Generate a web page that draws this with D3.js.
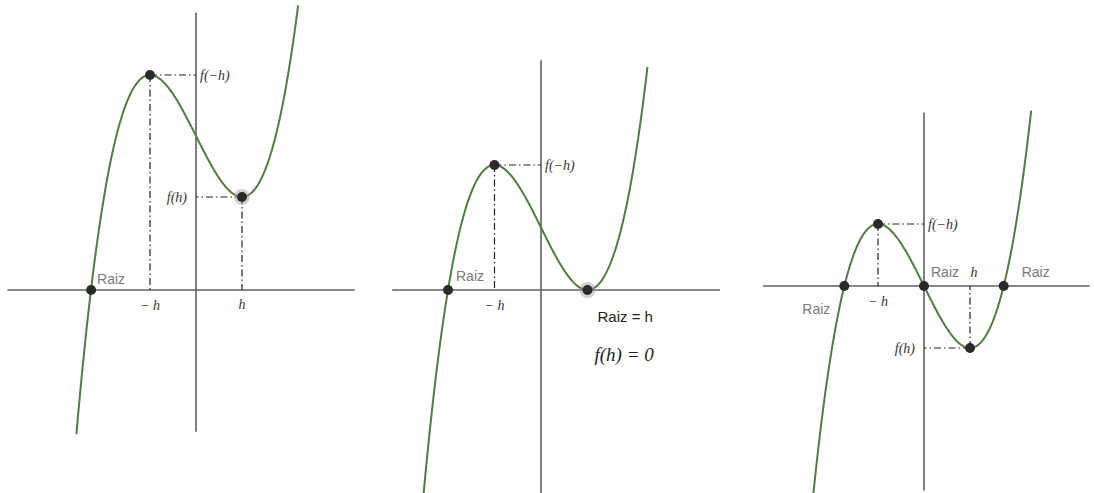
<!DOCTYPE html>
<html>
<head>
<meta charset="utf-8">
<script src="https://cdn.jsdelivr.net/npm/d3@7"></script>
<style>
  body { margin: 0; background: #fff; }
  .raiz { font-family: "Liberation Sans", Arial, sans-serif; font-size: 14px; fill: #7a7a7a; }
  .fx { font-family: "Liberation Serif", "DejaVu Serif", serif; font-style: italic; font-size: 14px; fill: #333; }
</style>
</head>
<body>
<svg id="chart" width="1094" height="493"></svg>
<script>
// f(x) = x^3 - 3x + c  (x measured in units of h)
const offsets = [5.05, 2, 0];
// visible x range of each curve, in units of h
const curveFrom = [-2.6, -2.55, -2.43];
const curveTo = [2.22, 2.3, 2.33];
// axis extents in data units [xmin, xmax, ymin, ymax]
const axisX = [[-4.1, 3.45], [-3.2, 3.85], [-3.5, 3.6]];
const axisY = [[-4.65, 9.1], [-6.5, 7.35], [-6.6, 5.6]];
// roots and their labels
const rootLabels = [
  [{ x: -2.28, text: "Raiz", dx: 6, dy: -6, anchor: "start" }],
  [{ x: -2, text: "Raiz", dx: 8, dy: -9, anchor: "start" }],
  [
    { x: -1.732, text: "Raiz", dx: -14, dy: 28, anchor: "end" },
    { x: 0, text: "Raiz", dx: 7, dy: -9, anchor: "start" },
    { x: 1.732, text: "Raiz", dx: 18, dy: -9, anchor: "start" }
  ]
];

const svg = d3.select("#chart");

// pixel layout of each panel: origin and units
const layout = [
  { ox: 196, oy: 290, kx: 46, ky: 30.5 },
  { ox: 541, oy: 290, kx: 46.5, ky: 31.25 },
  { ox: 924, oy: 286, kx: 46, ky: 31 }
];

const green = "#4f7d42";
const axisColor = "#5f5f5f";

offsets.forEach(function (c, i) {
  const L = layout[i];
  const x = d3.scaleLinear().domain([0, 1]).range([L.ox, L.ox + L.kx]);
  const y = d3.scaleLinear().domain([0, 1]).range([L.oy, L.oy - L.ky]);
  const f = (t) => t * t * t - 3 * t + c;

  const g = svg.append("g");

  // axes
  g.append("line")
    .attr("x1", x(axisX[i][0])).attr("x2", x(axisX[i][1]))
    .attr("y1", y(0)).attr("y2", y(0))
    .attr("stroke", axisColor).attr("stroke-width", 1.6);
  g.append("line")
    .attr("x1", x(0)).attr("x2", x(0))
    .attr("y1", y(axisY[i][0])).attr("y2", y(axisY[i][1]))
    .attr("stroke", axisColor).attr("stroke-width", 1.6);

  // dash-dot guides
  const guide = (x1, y1, x2, y2) => g.append("line")
    .attr("x1", x1).attr("y1", y1).attr("x2", x2).attr("y2", y2)
    .attr("stroke", "#222").attr("stroke-width", 1.2)
    .attr("stroke-dasharray", "7,3,1.5,3");

  const pMax = { x: -1, y: f(-1) };
  const pMin = { x: 1, y: f(1) };
  guide(x(pMax.x), y(pMax.y), x(0), y(pMax.y));
  guide(x(pMax.x), y(pMax.y), x(pMax.x), y(0));
  if (Math.abs(pMin.y) > 0.01) {
    guide(x(pMin.x), y(pMin.y), x(0), y(pMin.y));
    guide(x(pMin.x), y(pMin.y), x(pMin.x), y(0));
  }

  // curve
  const pts = d3.range(curveFrom[i], curveTo[i] + 0.001, 0.02).map((t) => [t, f(t)]);
  g.append("path")
    .datum(pts)
    .attr("fill", "none")
    .attr("stroke", green)
    .attr("stroke-width", 2)
    .attr("d", d3.line().x((d) => x(d[0])).y((d) => y(d[1])));

  // points
  const dot = (px, py, halo) => {
    if (halo) {
      g.append("circle").attr("cx", px).attr("cy", py).attr("r", 8)
        .attr("fill", "#999").attr("opacity", 0.45);
    }
    g.append("circle").attr("cx", px).attr("cy", py).attr("r", 5)
      .attr("fill", "#2a2a2a");
  };
  rootLabels[i].forEach(function (r) {
    if (Math.abs(r.x - 1) > 0.01) dot(x(r.x), y(0), false);
    g.append("text").attr("class", "raiz")
      .attr("x", x(r.x) + r.dx).attr("y", y(0) + r.dy)
      .attr("text-anchor", r.anchor).text(r.text);
  });
  dot(x(pMax.x), y(pMax.y), false);
  dot(x(pMin.x), y(pMin.y), i !== 2);

  // labels f(-h), f(h)
  g.append("text").attr("class", "fx")
    .attr("x", x(0) + 4).attr("y", y(pMax.y) + 5)
    .text("f(−h)");
  if (Math.abs(pMin.y) > 0.01) {
    g.append("text").attr("class", "fx")
      .attr("x", x(0) - 9).attr("y", y(pMin.y) + 5)
      .attr("text-anchor", "end").text("f(h)");
  }

  // -h and h on the x axis
  g.append("text").attr("class", "fx")
    .attr("x", x(-1)).attr("y", y(0) + 20)
    .attr("text-anchor", "middle").text("− h");
  if (i === 0) {
    g.append("text").attr("class", "fx")
      .attr("x", x(1)).attr("y", y(0) + 19)
      .attr("text-anchor", "middle").text("h");
  }
  if (i === 2) {
    g.append("text").attr("class", "fx")
      .attr("x", x(1) + 4).attr("y", y(0) - 9)
      .attr("text-anchor", "middle").text("h");
  }

  if (i === 1) {
    g.append("text")
      .attr("x", x(1) + 10).attr("y", y(0) + 32)
      .attr("font-family", "Liberation Sans, Arial, sans-serif")
      .attr("font-size", 15).attr("fill", "#222")
      .text("Raiz = h");
    g.append("text").attr("class", "fx")
      .attr("x", x(1) + 7).attr("y", y(0) + 71)
      .style("font-size", "19px").style("fill", "#222")
      .text("f(h) = 0");
  }
});
</script>
</body>
</html>
